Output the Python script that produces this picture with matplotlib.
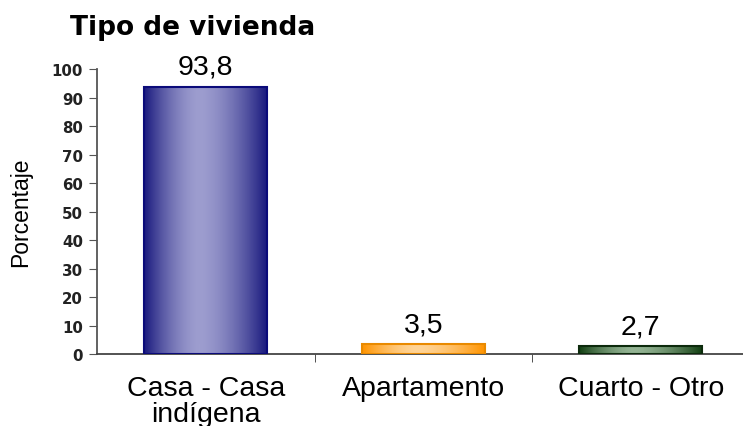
import numpy as np
import matplotlib.pyplot as plt
from matplotlib.colors import LinearSegmentedColormap

categorias = ["Casa - Casa\nindígena", "Apartamento", "Cuarto - Otro"]
porcentajes = [93.8, 3.5, 2.7]
etiquetas = ["93,8", "3,5", "2,7"]

# colores: borde, tono oscuro, brillo central
bordes = ["#0b0b7a", "#e98a00", "#0c2a0c"]
oscuros = ["#1a1a7e", "#ff9400", "#123f12"]
claros = ["#9d9dcf", "#ffd496", "#94b494"]

fig = plt.figure(figsize=(7.43, 4.27), dpi=100)
ax = fig.add_axes([0.1306, 0.1686, 0.8694, 0.6674])

x = np.arange(len(categorias))
ancho = 0.565
barras = ax.bar(x, porcentajes, width=ancho, facecolor="none",
                edgecolor=bordes, linewidth=1.5, zorder=3)

t = np.linspace(0, 1, 256)
perfil = 1 - np.abs((t - 0.45) / np.where(t < 0.45, 0.45, 0.55)) ** 1.6
grad = perfil.reshape(1, -1)
for b, osc, cla in zip(barras, oscuros, claros):
    cmap = LinearSegmentedColormap.from_list("g", [osc, cla])
    x0 = b.get_x()
    im = ax.imshow(grad, cmap=cmap, aspect="auto", vmin=0, vmax=1,
                   extent=(x0, x0 + b.get_width(), 0, b.get_height()),
                   zorder=2, interpolation="bicubic")
    im.set_clip_path(b)

for xi, v, txt in zip(x, porcentajes, etiquetas):
    ax.annotate(txt, (xi, v), xytext=(0, 5), textcoords="offset points",
                ha="center", va="bottom", fontsize=20.5, family="Liberation Sans")

ax.set_xlim(-0.5, 2.47)
ax.set_ylim(0, 100)
ax.set_yticks(range(0, 101, 10))
ax.set_yticklabels([str(v) for v in range(0, 101, 10)], fontsize=10.8,
                   fontweight="bold", family="DejaVu Sans", color="#222222")
ax.set_xticks(x)
ax.set_xticklabels(categorias, fontsize=20.5, family="Liberation Sans", linespacing=1.0)
ax.tick_params(axis="x", length=0, pad=15)
ax.set_xticks([0.5, 1.5], minor=True)
ax.tick_params(axis="x", which="minor", length=6, direction="out", color="#333333")
ax.tick_params(axis="y", length=6, direction="out", color="#555555", pad=4)

for s in ["top", "right"]:
    ax.spines[s].set_visible(False)
ax.spines["left"].set_color("#555555")
ax.spines["bottom"].set_color("#444444")
ax.spines["left"].set_linewidth(1.3)
ax.spines["bottom"].set_linewidth(1.3)

ax.set_ylabel("Porcentaje", fontsize=16.5, family="Liberation Sans", labelpad=14)
fig.text(0.094, 0.965, "Tipo de vivienda", fontsize=19, fontweight="bold",
         family="DejaVu Sans", va="top", ha="left")

fig.savefig("out.png", dpi=100)
